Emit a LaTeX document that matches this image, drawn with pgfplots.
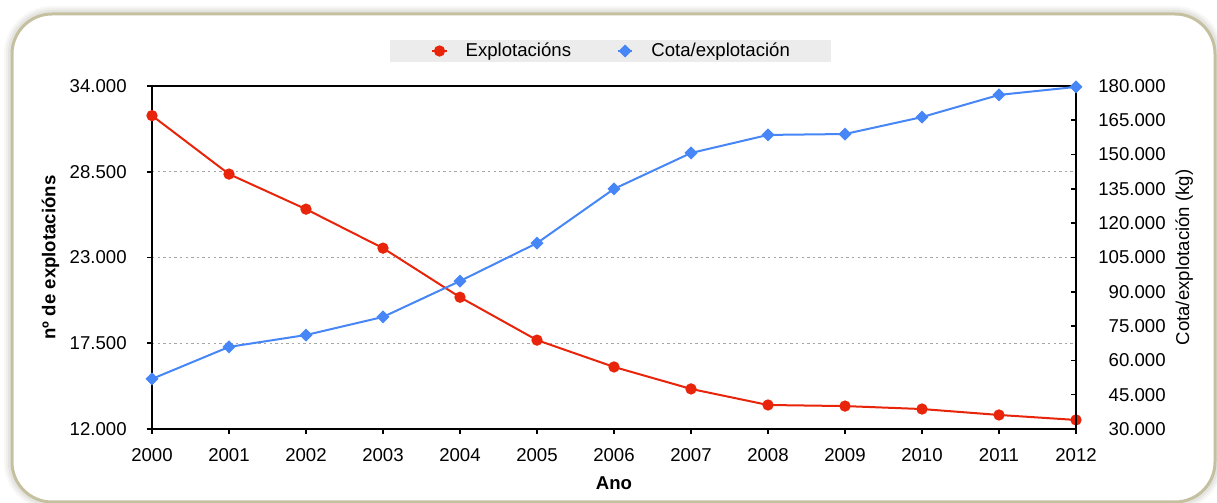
\documentclass[border=0pt]{standalone}
\usepackage{fontspec}
\setmainfont{Liberation Sans}
\usepackage{pgfplots}
\pgfplotsset{compat=1.18}
\definecolor{redS}{RGB}{232,36,10}
\definecolor{blueS}{RGB}{70,134,247}
\definecolor{frameC}{RGB}{196,192,160}
\begin{document}
\begin{tikzpicture}
\path[use as bounding box] (0,0) rectangle (608.5pt,251.5pt);
\foreach \w/\o in {8pt/0.04,6pt/0.05,4pt/0.07}{\draw[line width=\w, black!60!olive, opacity=\o, rounded corners=20pt] (6pt,0.5pt) rectangle (607.5pt,244.5pt);}
\draw[line width=1.5pt, frameC, fill=white, rounded corners=20pt] (6pt,0.5pt) rectangle (607.5pt,244.5pt);
\pgfplotsset{
  common/.style={
    at={(76pt,37pt)}, anchor=south west, scale only axis,
    width=462pt, height=171.5pt,
    xmin=2000, xmax=2012, clip=false,
    /pgf/number format/assume math mode=true,
    tick label style={font=\fontsize{9.3}{11}\selectfont, inner sep=0pt},
    label style={font=\fontsize{9.3}{11}\selectfont},
    axis line style={line width=1pt},
    major tick length=2.5pt,
    major tick style={line width=0.8pt, black},
    scaled y ticks=false,
    y tick label style={/pgf/number format/1000 sep={.}, /pgf/number format/min exponent for 1000 sep=0, /pgf/number format/fixed},
  }
}
\begin{axis}[common,
  ymin=12000, ymax=34000,
  xtick={2000,2001,...,2012},
  x tick label style={/pgf/number format/1000 sep={}},
  ytick={12000,17500,23000,28500,34000},
  ytick pos=left, xtick pos=bottom, tick align=outside,
  yticklabel shift=10pt, xticklabel shift=7pt,
  ymajorgrids, grid style={gray!70, line width=0.4pt, dash pattern=on 1.2pt off 1.6pt},
  xlabel={\textbf{Ano}}, ylabel={\textbf{nº de explotacións}},
  xlabel style={at={(axis description cs:0.5,-0.157)}, anchor=center},
  ylabel style={at={(axis description cs:-0.110,0.5)}, anchor=center},
  legend columns=2,
  legend style={at={(axis description cs:0.2576,1.102)}, anchor=west,
    fill=gray!15, draw=none, inner xsep=20.5pt, inner ysep=1.5pt,
    font=\fontsize{9.3}{11}\selectfont,
    nodes={inner sep=0pt},
    /tikz/every odd column/.append style={column sep=9pt},
    /tikz/every even column/.append style={column sep=23pt}},
  legend image code/.code={\draw[mark repeat=2, mark phase=2] plot coordinates {(0cm,0cm)(0.125cm,0cm)(0.25cm,0cm)};},
]
\addplot[redS, line width=1pt, mark=*, mark size=2.3pt, mark options={solid}] coordinates {
(2000,32100) (2001,28350) (2002,26100) (2003,23600) (2004,20450) (2005,17700) (2006,15980)
(2007,14570) (2008,13540) (2009,13470) (2010,13280) (2011,12900) (2012,12580)};
\addlegendentry{Explotacións}
\addlegendimage{blueS, line width=1pt, mark=square*, mark size=1.8pt, mark options={rotate=45}}
\addlegendentry{Cota/explotación}
\end{axis}
\begin{axis}[common,
  ymin=30000, ymax=180000,
  axis y line*=right, axis x line=none,
  ytick={30000,45000,...,180000},
  tick align=inside,
  yticklabel shift=45pt,
  y tick label style={anchor=east},
  ylabel={Cota/explotación (kg)},
  ylabel style={at={(axis description cs:1.117,0.5)}, anchor=center, rotate=0},
]
\addplot[blueS, line width=1pt, mark=square*, mark size=1.8pt, mark options={rotate=45}] coordinates {
(2000,51900) (2001,65900) (2002,71100) (2003,79000) (2004,94700) (2005,111300) (2006,135000)
(2007,150700) (2008,158600) (2009,159000) (2010,166400) (2011,176100) (2012,179600)};
\end{axis}
\end{tikzpicture}
\end{document}
